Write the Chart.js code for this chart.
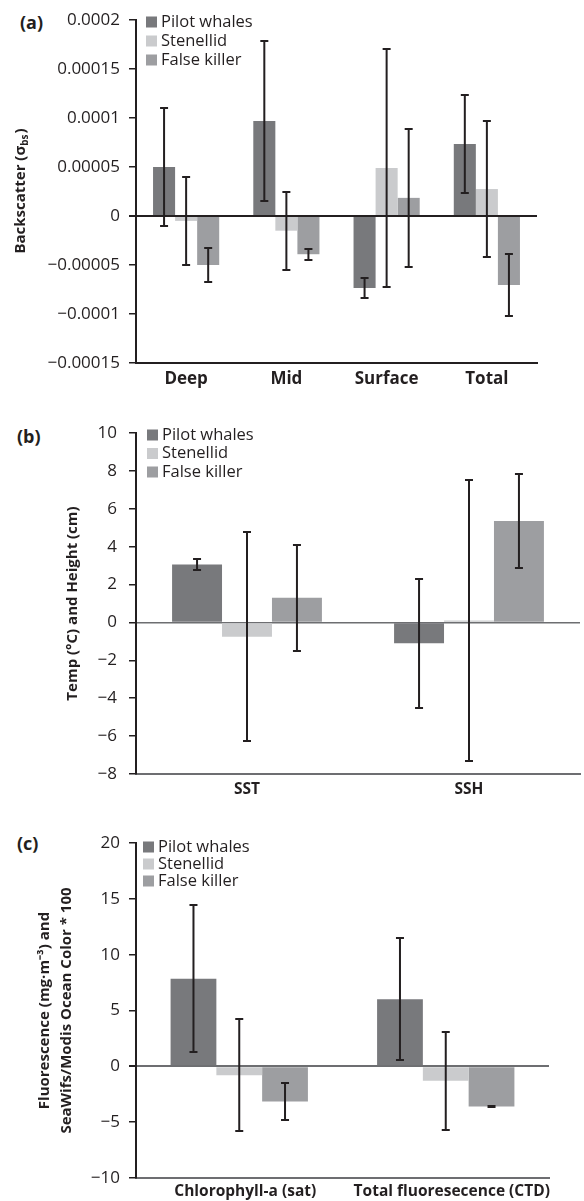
<!DOCTYPE html>
<html>
<head>
<meta charset="utf-8">
<script src="https://cdn.jsdelivr.net/npm/chart.js@4.4.1/dist/chart.umd.min.js"></script>
<style>
  body { margin: 0; background: #fff; width: 584px; height: 1201px; overflow: hidden; position: relative; }
  canvas { position: absolute; left: 0; }
  .tag { position: absolute; font: bold 18px "Open Sans"; color: #231f20; line-height: 20px; }
</style>
</head>
<body>
<div class="tag" style="left:20px;top:12px">(a)</div>
<div class="tag" style="left:17px;top:426px">(b)</div>
<div class="tag" style="left:17px;top:833px">(c)</div>
<canvas id="chartA" width="584" height="390" style="top:0"></canvas>
<canvas id="chartB" width="584" height="410" style="top:390px"></canvas>
<canvas id="chartC" width="584" height="401" style="top:800px"></canvas>
<script>
// species
var species = ['Pilot whales', 'Stenellid', 'False killer'];
var colors = ['#78797c', '#cacbcd', '#9d9ea1'];

// (a) backscatter
var catA = ['Deep', 'Mid', 'Surface', 'Total'];
var pilotA = [0.00005, 0.000097, -0.0000735, 0.0000735];
var pilotErrA = [0.00006, 0.000082, 0.00001, 0.00005];
var stenA = [-0.000005, -0.000015, 0.000049, 0.0000275];
var stenErrA = [0.000045, 0.00004, 0.000121, 0.000069];
var falseA = [-0.00005, -0.000039, 0.0000185, -0.0000705];
var falseErrA = [0.000017, 0.0000058, 0.0000705, 0.0000315];

// (b) SST / SSH
var catB = ['SST', 'SSH'];
var pilotB = [3.06, -1.1];
var pilotErrB = [0.3, 3.4];
var stenB = [-0.75, 0.1];
var stenErrB = [5.5, 7.4];
var falseB = [1.3, 5.35];
var falseErrB = [2.8, 2.5];

// (c) fluorescence
var catC = ['Chlorophyll-a (sat)', 'Total fluoresecence (CTD)'];
var pilotC = [7.85, 6.0];
var pilotErrC = [6.6, 5.45];
var stenC = [-0.8, -1.3];
var stenErrC = [5.0, 4.4];
var falseC = [-3.15, -3.6];
var falseErrC = [1.65, 0.05];

Chart.defaults.font.family = '"Open Sans"';
Chart.defaults.color = '#231f20';

var ink = '#231f20';

// error bars on top of each bar
var errorBars = {
  id: 'errorBars',
  afterDatasetsDraw: function(chart) {
    var ctx = chart.ctx, y = chart.scales.y;
    ctx.save();
    ctx.strokeStyle = ink;
    ctx.lineWidth = 2;
    chart.data.datasets.forEach(function(ds, i) {
      chart.getDatasetMeta(i).data.forEach(function(bar, j) {
        var v = ds.data[j], e = ds.errors[j];
        var top = Math.round(y.getPixelForValue(v + e)), bot = Math.round(y.getPixelForValue(v - e));
        ctx.beginPath();
        ctx.moveTo(bar.x, top); ctx.lineTo(bar.x, bot);
        ctx.moveTo(bar.x - 4, top); ctx.lineTo(bar.x + 4, top);
        ctx.moveTo(bar.x - 4, bot); ctx.lineTo(bar.x + 4, bot);
        ctx.stroke();
      });
    });
    ctx.restore();
  }
};

// small legend inside the plot, top left
var boxLegend = {
  id: 'boxLegend',
  afterDraw: function(chart, args, opts) {
    var ctx = chart.ctx, a = chart.chartArea;
    ctx.save();
    ctx.font = '16.5px "Open Sans"';
    ctx.textBaseline = 'middle';
    chart.data.datasets.forEach(function(ds, i) {
      var y = a.top + opts.top + i * opts.gap;
      ctx.fillStyle = ds.backgroundColor;
      ctx.fillRect(a.left + opts.left, y - 5.5, 11, 11);
      ctx.fillStyle = ink;
      ctx.fillText(ds.label, a.left + opts.left + 15, y);
    });
    ctx.restore();
  }
};

// y title with subscript for panel (a)
var subTitle = {
  id: 'subTitle',
  afterDraw: function(chart, args, opts) {
    if (!opts.text) return;
    var ctx = chart.ctx, a = chart.chartArea;
    ctx.save();
    ctx.translate(opts.x, (a.top + a.bottom) / 2);
    ctx.rotate(-Math.PI / 2);
    ctx.fillStyle = ink;
    ctx.textBaseline = 'middle';
    var big = 'bold 15px "Open Sans"', small = 'bold 10px "Open Sans"';
    ctx.font = big; var w1 = ctx.measureText(opts.text).width, w3 = ctx.measureText(')').width;
    ctx.font = small; var w2 = ctx.measureText(opts.sub).width;
    var x = -(w1 + w2 + w3) / 2;
    ctx.font = big; ctx.fillText(opts.text, x, 0);
    ctx.font = small; ctx.fillText(opts.sub, x + w1, 4);
    ctx.font = big; ctx.fillText(')', x + w1 + w2 + 1, 0);
    ctx.restore();
  }
};

function fmt(v) {
  return String(Number(v.toPrecision(6))).replace('-', '\u2212');
}

function makeSets(p, pe, s, se, f, fe) {
  var vals = [p, s, f], errs = [pe, se, fe];
  return species.map(function(name, i) {
    return { label: name, data: vals[i], errors: errs[i], backgroundColor: colors[i], borderWidth: 0 };
  });
}

function makeChart(id, o) {
  return new Chart(document.getElementById(id), {
    type: 'bar',
    data: { labels: o.labels, datasets: o.datasets },
    options: {
      responsive: false,
      animation: false,
      barPercentage: 1,
      categoryPercentage: o.catPct,
      layout: { padding: { left: 0, top: o.top, right: o.right, bottom: 0 } },
      plugins: {
        legend: { display: false },
        tooltip: { enabled: false },
        boxLegend: o.legend,
        subTitle: o.sub || {}
      },
      scales: {
        x: {
          grid: { display: false, drawTicks: false },
          border: { display: true, color: o.xAxisColor, width: 2 },
          ticks: { font: { size: o.xFont, weight: 'bold' }, padding: o.xPad, labelOffset: o.xShift || 0, color: ink, maxRotation: 0, autoSkip: false },
          afterFit: function(s) { s.height = o.xHeight; }
        },
        y: {
          min: o.min, max: o.max,
          border: { display: true, color: ink, width: 2 },
          grid: {
            color: function(c) { return Math.abs(c.tick.value) < 1e-12 ? o.zeroColor : 'rgba(0,0,0,0)'; },
            lineWidth: function(c) { return Math.abs(c.tick.value) < 1e-12 ? o.zeroWidth : 1.5; },
            tickColor: ink, tickLength: 7
          },
          ticks: { stepSize: o.step, font: { size: 17 }, padding: o.yPad, color: ink, callback: fmt },
          title: o.title || { display: false },
          afterFit: function(s) { s.width = 136; }
        }
      }
    },
    plugins: [errorBars, boxLegend, subTitle]
  });
}

makeChart('chartA', {
  labels: catA,
  datasets: makeSets(pilotA, pilotErrA, stenA, stenErrA, falseA, falseErrA),
  catPct: 0.66, top: 20, right: 47, xHeight: 27, xPad: 6, xFont: 17,
  min: -0.00015, max: 0.0002, step: 0.00005, yPad: 9,
  xAxisColor: ink, zeroColor: ink, zeroWidth: 2,
  legend: { left: 10, top: 2, gap: 19 },
  sub: { text: 'Backscatter (\u03c3', sub: 'bs', x: 21 }
});

makeChart('chartB', {
  labels: catB,
  datasets: makeSets(pilotB, pilotErrB, stenB, stenErrB, falseB, falseErrB),
  catPct: 0.675, top: 43, right: 4, xHeight: 26, xPad: 6, xFont: 15.5,
  min: -8, max: 10, step: 2, yPad: 12,
  xAxisColor: '#6d6e71', zeroColor: '#6d6e71', zeroWidth: 1.5,
  legend: { left: 11, top: 2, gap: 18.5 },
  title: { display: true, text: 'Temp (\u00b0C) and Height (cm)', font: { size: 15, weight: 'bold' }, color: ink, padding: { top: 64, bottom: 0 } }
});

makeChart('chartC', {
  labels: catC,
  datasets: makeSets(pilotC, pilotErrC, stenC, stenErrC, falseC, falseErrC),
  catPct: 0.665, top: 43, right: 35, xHeight: 23, xPad: 4, xFont: 15.5, xShift: 6,
  min: -10, max: 20, step: 5, yPad: 9,
  xAxisColor: '#6d6e71', zeroColor: '#6d6e71', zeroWidth: 2,
  legend: { left: 7, top: 4, gap: 17 },
  title: { display: true, text: ['Fluorescence (mg\u00b7m\u207b\u00b3) and', 'SeaWifs/Modis Ocean Color * 100'], font: { size: 15, weight: 'bold', lineHeight: 1.5 }, color: ink, padding: { top: 33, bottom: 0 } }
});
</script>
</body>
</html>
